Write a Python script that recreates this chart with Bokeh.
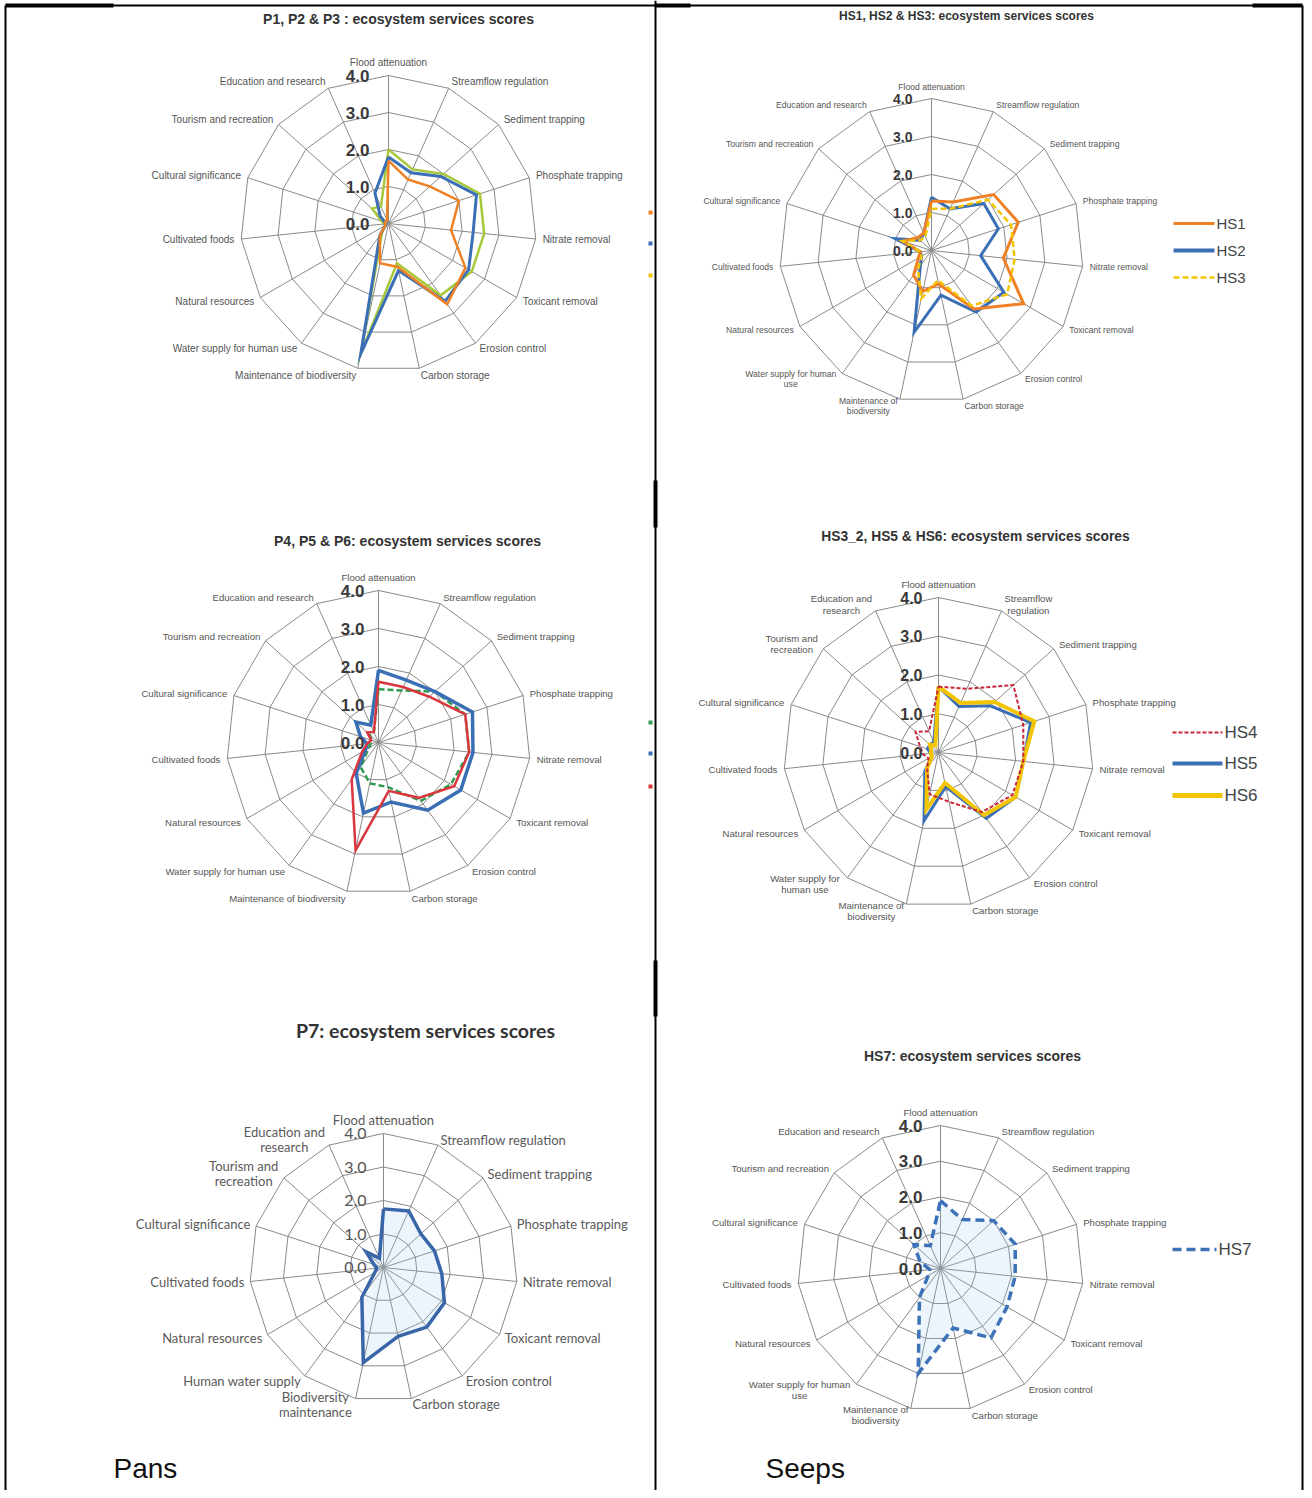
import math
from bokeh.plotting import figure
from bokeh.models import Range1d
from bokeh.embed import file_html
from bokeh.resources import INLINE
from bokeh.core.properties import value

# ---------------- data ----------------
CATS_A = ["Flood attenuation", "Streamflow regulation", "Sediment trapping", "Phosphate trapping",
          "Nitrate removal", "Toxicant removal", "Erosion control", "Carbon storage",
          "Maintenance of biodiversity", "Water supply for human use", "Natural resources",
          "Cultivated foods", "Cultural significance", "Tourism and recreation", "Education and research"]
CATS_B = ["Flood attenuation", "Streamflow regulation", "Sediment trapping", "Phosphate trapping",
          "Nitrate removal", "Toxicant removal", "Erosion control", "Carbon storage",
          "Maintenance of\nbiodiversity", "Water supply for human\nuse", "Natural resources",
          "Cultivated foods", "Cultural significance", "Tourism and recreation", "Education and research"]
CATS_C = ["Flood attenuation", "Streamflow\nregulation", "Sediment trapping", "Phosphate trapping",
          "Nitrate removal", "Toxicant removal", "Erosion control", "Carbon storage",
          "Maintenance of\nbiodiversity", "Water supply for\nhuman use", "Natural resources",
          "Cultivated foods", "Cultural significance", "Tourism and\nrecreation", "Education and\nresearch"]
CATS_D = ["Flood attenuation", "Streamflow regulation", "Sediment trapping", "Phosphate trapping",
          "Nitrate removal", "Toxicant removal", "Erosion control", "Carbon storage",
          "Biodiversity\nmaintenance", "Human water supply", "Natural resources",
          "Cultivated foods", "Cultural significance", "Tourism and\nrecreation", "Education and\nresearch"]

TICK_VALUES = [0, 1, 2, 3, 4]
TICK_LABELS = ["0.0", "1.0", "2.0", "3.0", "4.0"]
VMAX = 4.0

P1 = [1.7, 1.3, 1.5, 2.0, 1.7, 2.4, 2.7, 1.2, 1.1, 0.4, 0.1, 0.1, 0.1, 0.1, 0.1]
P2 = [1.8, 1.5, 1.9, 2.5, 2.3, 2.5, 2.6, 1.3, 3.6, 0.4, 0.1, 0.1, 0.1, 0.3, 0.9]
P3 = [2.0, 1.6, 2.0, 2.6, 2.6, 2.6, 2.4, 1.1, 3.6, 0.3, 0.1, 0.1, 0.2, 0.6, 0.5]

HS1 = [1.3, 1.4, 2.2, 2.4, 1.9, 2.8, 1.9, 0.9, 1.1, 0.8, 0.4, 0.3, 0.8, 0.5, 0.5]
HS2 = [1.4, 1.2, 1.85, 1.85, 1.3, 2.2, 2.0, 1.2, 2.2, 0.5, 0.3, 0.3, 1.0, 0.4, 0.5]
HS3 = [1.1, 1.2, 2.0, 2.2, 2.2, 2.3, 1.8, 0.8, 1.3, 0.6, 0.3, 0.3, 0.8, 0.4, 0.4]

P4 = [1.4, 1.5, 2.0, 2.4, 2.4, 2.2, 1.9, 1.2, 1.1, 0.8, 0.3, 0.2, 0.2, 0.3, 0.3]
P5 = [1.9, 1.8, 2.0, 2.6, 2.5, 2.5, 2.2, 1.6, 1.9, 1.0, 0.4, 0.3, 0.5, 0.8, 0.5]
P6 = [1.6, 1.6, 1.8, 2.4, 2.4, 2.3, 1.8, 1.3, 2.9, 1.2, 0.5, 0.3, 0.2, 0.4, 0.3]

HS4 = [1.7, 1.8, 2.6, 2.3, 2.2, 2.2, 1.9, 1.3, 1.1, 0.5, 0.3, 0.4, 0.5, 0.8, 0.6]
HS5 = [1.7, 1.3, 1.8, 2.5, 2.2, 2.3, 2.1, 0.9, 1.8, 0.6, 0.2, 0.2, 0.3, 0.3, 0.3]
HS6 = [1.7, 1.4, 1.95, 2.6, 2.2, 2.3, 2.0, 0.8, 1.5, 0.5, 0.2, 0.2, 0.2, 0.3, 0.2]

P7 = [1.75, 1.85, 1.5, 1.6, 1.75, 2.1, 2.2, 2.1, 2.9, 1.1, 0.3, 0.2, 0.3, 0.7, 0.3]
HS7 = [1.9, 1.5, 2.0, 2.2, 2.1, 2.15, 2.4, 1.7, 3.0, 1.0, 0.4, 0.3, 0.6, 1.0, 0.7]

TITLES = ["P1, P2 & P3 : ecosystem services scores",
          "HS1, HS2 & HS3: ecosystem services scores",
          "P4, P5 & P6: ecosystem services scores",
          "HS3_2, HS5 & HS6: ecosystem services scores",
          "P7: ecosystem services scores",
          "HS7: ecosystem services scores"]

ORANGE = "#F08024"
BLUE = "#3A6FB5"
GREENY = "#A6C83A"
YELLOW = "#F2C500"
GREEN = "#2F9B4C"
RED = "#D9363E"
GRID = "#8a8a8a"
LAB = "#555555"

W, H = 1304, 1490
p = figure(width=W, height=H, x_range=Range1d(0, W), y_range=Range1d(H, 0),
           output_backend="svg", toolbar_location=None, min_border=0,
           x_axis_type=None, y_axis_type=None)
p.grid.visible = False
p.outline_line_color = None
p.background_fill_color = "white"


def radar(cx, cy, R, cats, series, lab_fs, lab_font, lab_color, tick_fs, tick_style,
          tick_font, tick_color, tick_dx, lab_off=7, fill=None):
    n = len(cats)
    th = [2 * math.pi * i / n for i in range(n)]
    # rings
    rx, ry = [], []
    for v in TICK_VALUES[1:]:
        rr = v / VMAX * R
        xs = [cx + rr * math.sin(t) for t in th]
        ys = [cy - rr * math.cos(t) for t in th]
        rx.append(xs + xs[:1]); ry.append(ys + ys[:1])
    p.multi_line(rx, ry, line_color=GRID, line_width=1)
    # spokes
    p.segment(x0=[cx] * n, y0=[cy] * n,
              x1=[cx + R * math.sin(t) for t in th],
              y1=[cy - R * math.cos(t) for t in th], line_color=GRID, line_width=1)
    # series
    for vals, color, width, dash in series:
        xs = [cx + v / VMAX * R * math.sin(t) for v, t in zip(vals, th)]
        ys = [cy - v / VMAX * R * math.cos(t) for v, t in zip(vals, th)]
        xs.append(xs[0]); ys.append(ys[0])
        if fill is not None:
            p.patch(xs, ys, fill_color=fill, fill_alpha=0.18, line_color=None)
        p.line(xs, ys, line_color=color, line_width=width, line_dash=dash, line_join="miter")
    # category labels
    groups = {}
    lh = lab_fs * 1.15
    for t, lab in zip(th, cats):
        s, c = math.sin(t), math.cos(t)
        x0 = cx + (R + lab_off) * s
        y0 = cy - (R + lab_off) * c
        lines = lab.split("\n")
        k = len(lines)
        if abs(s) < 0.05:
            align = "center"
            vmode = "bottom" if c > 0 else "top"
        else:
            align = "left" if s > 0 else "right"
            vmode = "middle"
        if k > 1 and align != "center":
            w = max(len(l) for l in lines) * lab_fs * 0.5
            x0 = x0 + w / 2 if align == "left" else x0 - w / 2
            align = "center"
        for j, l in enumerate(lines):
            if vmode == "middle":
                yc = y0 + (j - (k - 1) / 2) * lh
            elif vmode == "bottom":
                yc = y0 - (k - 1 - j) * lh - lh / 2
            else:
                yc = y0 + j * lh + lh / 2
            g = groups.setdefault(align, ([], [], []))
            g[0].append(x0); g[1].append(yc); g[2].append(l)
    for align, (xs, ys, tx) in groups.items():
        p.text(x=xs, y=ys, text=tx, text_align=align, text_baseline="middle",
               text_font=value(lab_font), text_font_size=f"{lab_fs}px", text_color=lab_color)
    # tick labels
    p.text(x=[cx - tick_dx] * len(TICK_VALUES),
           y=[cy - v / VMAX * R for v in TICK_VALUES],
           text=TICK_LABELS, text_align="right", text_baseline="middle",
           text_font=value(tick_font), text_font_size=f"{tick_fs}px",
           text_font_style=tick_style, text_color=tick_color)


def title(x, y, txt, fs, font="Liberation Sans"):
    p.text(x=[x], y=[y], text=[txt], text_align="center", text_baseline="middle",
           text_font=value(font), text_font_size=f"{fs}px", text_font_style="bold",
           text_color="#333333")


def legend(x0, x1, ys, names, colors, widths, dashes, fs):
    for y, nm, col, w, d in zip(ys, names, colors, widths, dashes):
        p.segment(x0=[x0], y0=[y], x1=[x1], y1=[y], line_color=col, line_width=w, line_dash=d)
        p.text(x=[x1 + 2], y=[y], text=[nm], text_align="left", text_baseline="middle",
               text_font=value("Liberation Sans"), text_font_size=f"{fs}px", text_color="#444444")


SF = "Liberation Sans"

# Chart 1
title(398, 18, TITLES[0], 14)
radar(388, 223, 148, CATS_A,
      [(P3, GREENY, 2.5, "solid"), (P2, BLUE, 3, "solid"), (P1, ORANGE, 2.5, "solid")],
      10, SF, LAB, 17, "bold", SF, "#3a3a3a", 19)
# Chart 2
title(966, 15, TITLES[1], 12)
radar(931, 250, 152, CATS_B,
      [(HS2, BLUE, 3, "solid"), (HS1, ORANGE, 3, "solid"), (HS3, YELLOW, 2.5, "6 3")],
      8.6, SF, LAB, 14, "bold", SF, "#3a3a3a", 19)
legend(1173, 1214, [223, 250, 277], ["HS1", "HS2", "HS3"], [ORANGE, BLUE, YELLOW],
       [3, 4, 2.5], ["solid", "solid", "6 3"], 15)
# Chart 3
title(407, 540, TITLES[2], 14)
radar(378, 742, 152, CATS_A,
      [(P4, GREEN, 2.5, "6 3"), (P5, BLUE, 3.5, "solid"), (P6, RED, 2.5, "solid")],
      9.6, SF, LAB, 17, "bold", SF, "#3a3a3a", 14)
# Chart 4
title(975, 536, TITLES[3], 13.8)
radar(938, 752, 155, CATS_C,
      [(HS5, BLUE, 3, "solid"), (HS6, YELLOW, 4, "solid"), (HS4, "#C8283A", 2, "4 2")],
      9.6, SF, LAB, 16, "bold", SF, "#3a3a3a", 16)
legend(1172, 1222, [732, 763, 795], ["HS4", "HS5", "HS6"], ["#C8283A", BLUE, YELLOW],
       [2, 4, 5], ["4 2", "solid", "solid"], 17)
# Chart 5
title(425, 1030, TITLES[4], 19.5, "Lato")
radar(383, 1267, 134, CATS_D,
      [(P7, "#3866A8", 3.5, "solid")],
      13, "Lato", "#5a5a5a", 16, "normal", "Lato", "#555555", 17, lab_off=6, fill="#9cc6ee")
# Chart 6
title(972, 1055, TITLES[5], 14)
radar(940, 1268, 143, CATS_B,
      [(HS7, "#3C72B8", 3.5, "9 5")],
      9.6, SF, LAB, 17, "bold", SF, "#3a3a3a", 18, fill="#9cc6ee")
legend(1172, 1216, [1249], ["HS7"], ["#3C72B8"], [3.5], ["9 5"], 17)

# cut-off legend keys at the edge of the left cells
p.segment(x0=[648] * 3, y0=[212, 243, 275], x1=[652] * 3, y1=[212, 243, 275],
          line_color=[ORANGE, BLUE, YELLOW], line_width=4)
p.segment(x0=[648] * 3, y0=[722, 753, 786], x1=[652] * 3, y1=[722, 753, 786],
          line_color=[GREEN, BLUE, RED], line_width=4)

# section labels
p.text(x=[113, 765], y=[1468, 1468], text=["Pans", "Seeps"], text_align="left",
       text_baseline="middle", text_font=value("Liberation Sans"), text_font_size="28px",
       text_color="#111111")

# table borders
p.segment(x0=[5, 655, 1302, 5], y0=[5, 0, 5, 5], x1=[5, 655, 1302, 1302], y1=[1490, 1490, 1490, 5],
          line_color="black", line_width=2)
p.segment(x0=[5, 655, 1252, 655, 655], y0=[5, 5, 5, 480, 960],
          x1=[113, 690, 1302, 655, 655], y1=[5, 5, 5, 527, 1016],
          line_color="black", line_width=4)

open("out.html", "w").write(file_html(p, INLINE))
